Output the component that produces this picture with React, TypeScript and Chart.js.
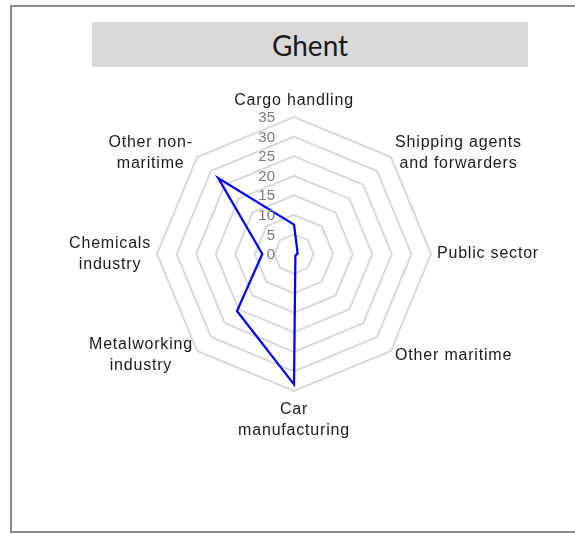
import React, { useEffect, useRef } from "react";
import { Chart, registerables } from "chart.js";

Chart.register(...registerables);

const TITLE = "Ghent";
const CATEGORIES: string[][] = [
  ["Cargo handling"],
  ["Shipping agents", "and forwarders"],
  ["Public sector"],
  ["Other maritime"],
  ["Car", "manufacturing"],
  ["Metalworking", "industry"],
  ["Chemicals", "industry"],
  ["Other non-", "maritime"],
];
const VALUES = [7.5, 1.2, 0.9, 0.5, 33.3, 20.6, 8.1, 27.4];
const TICKS = [0, 5, 10, 15, 20, 25, 30, 35];

const labelPlugin = {
  id: "customLabels",
  afterDraw(chart: any) {
    const scale = chart.scales.r;
    const ctx = chart.ctx as CanvasRenderingContext2D;
    ctx.save();
    ctx.font = '15px "Liberation Sans", Arial, sans-serif';
    ctx.fillStyle = "#7a7a7a";
    ctx.textAlign = "right";
    ctx.textBaseline = "middle";
    TICKS.forEach((t) => {
      const d = scale.getDistanceFromCenterForValue(t);
      ctx.fillText(String(t), scale.xCenter - 19, scale.yCenter - d + 1);
    });
    ctx.font = '16px "Liberation Sans", Arial, sans-serif';
    ctx.fillStyle = "#1a1a1a";
    (ctx as any).letterSpacing = "0.8px";
    const lh = 21;
    CATEGORIES.forEach((lines, i) => {
      const pos = scale.getPointPosition(i, scale.drawingArea + 6);
      const ang = scale.getIndexAngle(i);
      const s = Math.sin(ang);
      const c = Math.cos(ang);
      const w = Math.max(...lines.map((l) => ctx.measureText(l).width));
      const h = lines.length * lh;
      let left: number;
      let top: number;
      if (Math.abs(s) < 0.01) {
        left = pos.x - w / 2;
        top = c > 0 ? pos.y - h : pos.y + 2;
      } else {
        left = s > 0 ? pos.x : pos.x - w;
        top = pos.y - h / 2;
      }
      ctx.textAlign = "center";
      ctx.textBaseline = "middle";
      lines.forEach((l, k) => ctx.fillText(l, left + w / 2, top + lh * k + lh / 2));
    });
    ctx.restore();
  },
};

export default function App() {
  const ref = useRef<HTMLCanvasElement | null>(null);
  useEffect(() => {
    if (!ref.current) return;
    const chart = new Chart(ref.current, {
      type: "radar",
      data: {
        labels: CATEGORIES,
        datasets: [
          {
            label: TITLE,
            data: VALUES,
            borderColor: "#0000ff",
            borderWidth: 2.25,
            pointRadius: 0,
            pointHoverRadius: 0,
            fill: false,
            tension: 0,
          },
        ],
      },
      options: {
        responsive: false,
        maintainAspectRatio: false,
        devicePixelRatio: 1,
        animation: false,
        layout: { padding: { left: 14, right: 0, top: 117, bottom: 143 } },
        plugins: {
          legend: { display: false },
          title: { display: false },
          tooltip: { enabled: false },
        },
        scales: {
          r: {
            min: 0,
            max: 35,
            startAngle: 0,
            ticks: { stepSize: 5, display: false },
            grid: { color: "#d9d9d9", lineWidth: 2 },
            angleLines: { display: false },
            pointLabels: { display: false },
          },
        },
      },
      plugins: [labelPlugin],
    });
    return () => chart.destroy();
  }, []);

  return (
    <div style={{ position: "absolute", left: 0, top: 0, width: 575, height: 534, overflow: "hidden", background: "#fff" }}>
      <div
        style={{
          position: "absolute",
          left: 10,
          top: 5,
          width: 600,
          height: 528,
          border: "2px solid #8c8c8c",
          boxSizing: "border-box",
        }}
      />
      <div
        style={{
          position: "absolute",
          left: 92,
          top: 22,
          width: 436,
          height: 45,
          background: "#d9d9d9",
          display: "flex",
          alignItems: "center",
          justifyContent: "center",
          fontFamily: "Lato, 'Open Sans', sans-serif",
          fontSize: 28,
          color: "#1a1a1a",
        }}
      >
        {TITLE}
      </div>
      <canvas
        ref={ref}
        width={575}
        height={534}
        style={{ position: "absolute", left: 0, top: 0, width: 575, height: 534 }}
      />
    </div>
  );
}
